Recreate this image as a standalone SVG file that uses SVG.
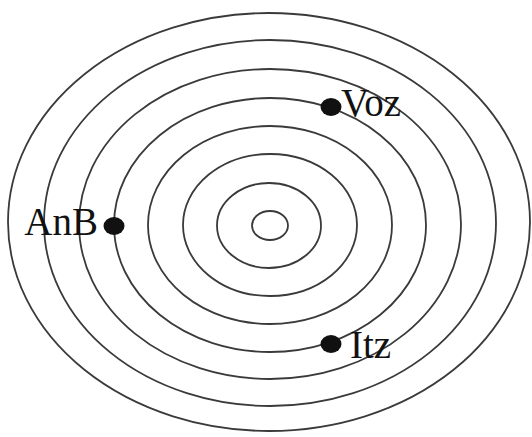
<svg xmlns="http://www.w3.org/2000/svg" width="532" height="437" viewBox="0 0 532 437">
<style>
.ring{fill:none;stroke:#3a3a3a;stroke-width:1.8}
.dot{fill:#111}
.lbl{font-family:"Liberation Serif","Times New Roman",serif;font-size:39px;fill:#111}
</style>
<rect width="532" height="437" fill="#fff"/>
<g id="rings">
<ellipse class="ring" cx="270" cy="225.5" rx="18" ry="14.5"/>
<ellipse class="ring" cx="269" cy="225.5" rx="52" ry="42.5"/>
<ellipse class="ring" cx="270" cy="225" rx="87" ry="71"/>
<ellipse class="ring" cx="270" cy="225" rx="122" ry="99"/>
<ellipse class="ring" cx="270" cy="225" rx="156" ry="127"/>
<ellipse class="ring" cx="270" cy="224" rx="191" ry="155"/>
<ellipse class="ring" cx="270" cy="223" rx="226" ry="183"/>
<ellipse class="ring" cx="269" cy="222" rx="261" ry="209"/>
</g>
<g id="node-voz">
<ellipse class="dot" cx="331" cy="107" rx="10.5" ry="9"/>
<text class="lbl" x="341" y="116">Voz</text>
</g>
<g id="node-anb">
<ellipse class="dot" cx="114" cy="226" rx="10.5" ry="9"/>
<text class="lbl" x="98" y="235" text-anchor="end">AnB</text>
</g>
<g id="node-itz">
<ellipse class="dot" cx="331" cy="344" rx="10.5" ry="9"/>
<text class="lbl" x="350" y="358">Itz</text>
</g>
<g id="connectors"/>
</svg>
